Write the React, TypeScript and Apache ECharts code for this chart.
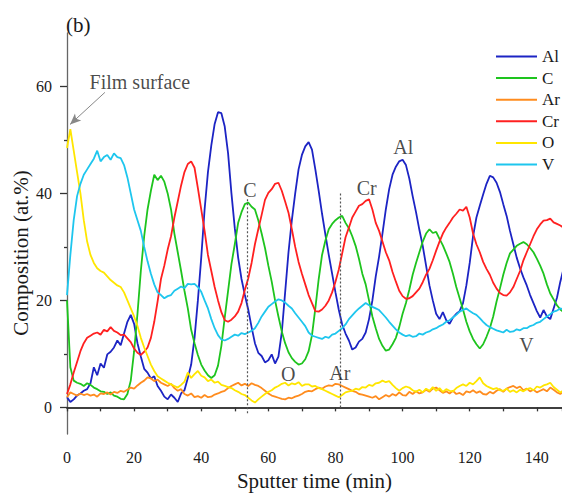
import React, { useEffect, useRef } from "react";
import * as echarts from "echarts";

// Composition (at.%) sampled every 1 min of sputter time, t = 0 .. 148 min
const AL = [
  1.9, 1.0, 1.5, 2.2, 2.6, 3.1, 3.4, 4.5, 7.5, 6.0,
  8.2, 7.4, 9.9, 10.4, 11.2, 12.5, 11.6, 13.8, 16.0, 17.3,
  15.6, 12.0, 9.5, 7.2, 6.5, 5.4, 5.8, 4.0, 3.1, 2.0,
  1.5, 2.4, 1.8, 1.0, 2.6, 3.2, 5.5, 8.0, 13.0, 20.0,
  28.0, 37.0, 44.0, 49.0, 53.0, 55.2, 55.0, 52.5, 47.5, 40.0,
  33.5, 28.0, 24.0, 21.0, 18.3, 15.0, 12.0, 10.2, 9.6, 8.4,
  8.8, 9.9, 8.2, 9.5, 14.0, 21.5, 29.0, 35.0, 40.0, 44.5,
  47.2, 48.8, 49.6, 48.2, 44.5, 40.5, 36.2, 32.3, 28.5, 25.0,
  21.5, 18.2, 15.5, 13.8, 12.5, 10.8, 11.2, 12.3, 12.8, 14.0,
  16.5, 20.0, 24.5, 28.2, 32.5, 37.0, 40.8, 43.5, 45.0, 46.0,
  46.3, 45.3, 42.8, 39.5, 36.5, 33.2, 30.2, 26.5, 22.8, 20.0,
  17.5, 16.5, 17.8, 16.3, 15.6, 16.8, 17.5, 18.0, 19.5, 22.8,
  27.0, 32.0, 35.5, 37.7, 39.8, 41.8, 43.3, 43.0, 42.0, 40.3,
  38.0, 35.8, 33.0, 30.5, 28.0, 26.0, 24.3, 22.8, 21.0, 19.5,
  18.0, 16.8, 18.2, 17.0, 16.5, 18.5, 20.5, 23.5, 26.0,
];

const C = [
  20.0, 7.5, 5.0, 4.6, 4.4, 4.0, 4.5, 4.2, 3.7, 3.4,
  3.0, 2.9, 2.5, 2.8, 2.2, 2.0, 1.6, 1.5, 2.5, 5.0,
  10.5, 17.5, 25.5, 32.0, 37.0, 40.5, 43.5, 42.5, 43.3, 42.2,
  40.0, 37.0, 32.5, 29.0, 25.5, 21.8, 18.5, 14.5, 12.0, 9.8,
  8.0, 6.9, 6.0, 5.5, 6.0, 7.8, 11.5, 16.8, 21.8, 26.8,
  30.5, 34.5, 36.5, 38.0, 38.3, 37.5, 37.0, 35.0, 32.5, 29.8,
  26.5, 23.5, 20.0, 17.0, 14.2, 12.0, 10.3, 9.2, 8.5, 8.0,
  8.2, 9.0, 10.5, 13.5, 18.5, 24.0, 28.5, 31.2, 33.3, 34.3,
  35.0, 35.5, 35.8, 34.5, 33.5, 32.0, 30.2, 27.8, 25.0, 23.0,
  20.0, 17.0, 14.8, 12.8, 11.5, 10.6, 10.8, 11.8, 13.0, 15.0,
  17.5, 19.5, 22.0, 24.8, 27.0, 29.0, 31.0, 32.5, 33.3, 32.6,
  32.8, 31.5, 30.3, 28.8, 27.2, 25.0, 22.5, 20.4, 18.3, 16.0,
  14.2, 12.8, 11.8, 11.0, 11.8, 13.2, 14.8, 17.0, 19.8, 22.2,
  24.8, 27.0, 28.8, 29.5, 30.2, 30.6, 30.9, 30.5, 29.8, 29.0,
  27.8, 26.5, 25.0, 23.0, 21.3, 20.2, 19.1, 18.3, 17.8,
];

const AR = [
  1.9, 2.8, 2.5, 2.2, 2.6, 2.3, 2.5, 2.2, 2.4, 2.0,
  2.6, 2.5, 2.8, 2.4, 2.9, 2.7, 3.1, 2.9, 3.3, 3.7,
  3.5, 4.1, 4.6, 5.0, 5.6, 5.4, 4.9, 5.2, 4.6, 4.3,
  4.0, 4.4, 3.6, 3.1, 3.4, 2.5, 2.2, 2.6, 1.9, 2.1,
  1.8, 2.3, 1.9, 2.0, 2.4, 2.6, 2.9, 3.1, 3.6, 4.0,
  4.3, 4.6, 4.1, 4.4, 4.0, 4.5, 4.2, 4.0, 3.6, 3.1,
  2.6, 2.2, 2.0, 1.8, 1.6, 1.5, 1.8, 1.7, 2.0, 2.2,
  2.5, 2.9, 3.1, 3.0, 3.4, 3.7, 3.5, 3.9, 4.1, 4.0,
  4.4, 4.3, 4.0, 3.7, 3.4, 3.1, 2.9, 2.5, 2.4, 2.2,
  2.0, 1.8, 2.1, 1.5, 1.9, 2.3, 2.0, 2.5, 2.2, 2.8,
  2.3, 2.2, 2.9, 2.5, 3.0, 2.6, 2.8, 3.3, 2.9, 3.5,
  3.7, 3.2, 2.7, 3.0, 2.6, 3.1, 2.5, 2.7, 2.3, 3.0,
  2.8, 3.2, 2.7, 3.0, 2.5, 2.4, 2.9, 2.6, 3.1, 3.4,
  2.9, 3.5, 3.8, 4.0, 3.6, 3.9, 3.2, 3.5, 3.0, 3.3,
  2.8, 3.1, 3.4, 3.0, 3.7, 3.3, 2.8, 2.5, 3.0,
];

const CR = [
  2.5, 4.3, 6.5, 8.5, 10.5, 12.0, 13.0, 13.4, 13.8, 14.0,
  13.6, 14.5, 14.2, 15.0, 14.3, 14.0, 13.5, 13.6, 12.9, 12.2,
  11.0, 10.2, 9.8, 10.4, 11.2, 13.0, 16.0, 19.8, 24.0, 26.5,
  29.5, 32.0, 35.5, 38.5, 41.5, 44.0, 45.5, 46.0, 44.8, 41.0,
  37.0, 33.0, 28.5, 25.5, 22.5, 20.0, 17.8, 16.3, 16.0, 16.4,
  17.0, 17.9, 19.5, 22.0, 24.1, 27.0, 30.5, 33.3, 36.0, 38.8,
  40.1, 40.8, 41.8, 42.0, 40.5, 38.5, 36.4, 33.3, 30.0, 27.2,
  25.0, 23.0, 21.0, 19.5, 18.0, 17.9, 18.3, 19.0, 20.0, 21.5,
  23.5, 25.8, 28.8, 31.8, 33.6, 35.5, 36.6, 37.7, 38.0, 38.6,
  38.9, 37.0, 34.5, 33.0, 31.0, 29.0, 27.5, 25.3, 23.5, 21.8,
  20.8, 20.3, 20.4, 20.8, 21.5, 22.2, 23.4, 24.8, 25.9, 27.5,
  29.3, 31.0, 32.5, 33.6, 34.5, 35.5, 36.2, 37.0, 36.8, 37.5,
  35.5, 32.5, 30.5, 29.0, 27.2, 25.9, 24.8, 23.3, 22.2, 21.4,
  21.0, 20.9, 21.5, 22.5, 24.0, 25.5, 27.5, 29.0, 30.5, 32.0,
  33.3, 34.2, 34.9, 35.0, 35.3, 34.6, 34.3, 34.0, 33.6,
];

const O = [
  48.5, 52.0, 48.0, 44.0, 40.0, 35.0, 31.0, 28.5, 27.0, 26.0,
  25.5, 25.2, 24.5, 23.8, 23.3, 22.8, 22.5, 21.5, 20.0, 18.5,
  17.0, 15.2, 13.0, 11.2, 9.6, 8.0, 6.8, 5.8, 5.4, 5.0,
  4.6, 4.3, 4.0, 3.7, 4.2, 4.8, 6.5, 5.5, 6.2, 6.8,
  5.9, 5.6, 4.9, 5.2, 4.6, 4.8, 4.2, 4.0, 3.8, 3.6,
  3.2, 2.9, 2.5, 2.3, 1.8, 1.3, 0.9, 1.5, 2.0, 2.5,
  2.9, 3.2, 3.7, 4.0, 4.4, 4.6, 4.1, 4.5, 4.3, 4.7,
  4.0, 4.3, 4.3, 3.9, 4.0, 3.6, 3.4, 3.1, 2.8, 2.5,
  2.2, 1.9, 2.3, 2.8, 3.0, 3.1, 3.5, 3.3, 3.8, 3.7,
  4.2, 4.0, 4.5, 4.6, 5.0, 4.7, 4.9, 4.2, 3.6, 3.1,
  3.6, 3.9, 3.7, 3.2, 2.9, 3.3, 2.8, 3.5, 3.1, 3.8,
  3.1, 3.6, 2.9, 3.4, 3.1, 3.0, 3.6, 4.0, 4.3, 4.0,
  4.6, 4.3, 4.9, 5.6, 4.5, 4.0, 3.7, 3.4, 3.6, 3.2,
  3.1, 3.5, 2.9, 3.2, 2.8, 3.3, 3.0, 3.4, 3.6, 3.2,
  3.9, 3.7, 4.1, 4.3, 4.6, 3.8, 3.3, 2.8, 3.2,
];

const V = [
  21.0, 28.5, 35.0, 39.5, 41.8, 43.5, 44.5, 45.5, 46.5, 48.0,
  46.0, 46.8, 47.2, 46.3, 47.5, 46.8, 46.6, 45.3, 43.0, 40.0,
  37.0, 35.0, 33.0, 30.0, 27.3, 25.0, 23.0, 21.5, 21.0, 20.4,
  20.8, 21.0, 21.8, 22.2, 22.6, 22.3, 23.1, 23.0, 23.1, 22.5,
  21.6, 20.0, 18.5, 16.5, 14.8, 13.5, 12.7, 12.5, 12.8, 13.2,
  13.6, 13.4, 13.9, 13.7, 14.0, 14.3, 14.8, 15.8, 17.0, 17.9,
  18.8, 19.3, 19.8, 20.2, 20.0, 19.6, 19.0, 18.5, 17.6, 16.8,
  16.0, 15.2, 14.0, 13.4, 13.2, 13.0, 12.8, 13.2, 13.0, 13.6,
  13.8, 14.3, 14.8, 15.5, 16.5, 17.2, 17.9, 18.5, 19.0, 19.5,
  19.1, 18.8, 18.5, 18.2, 17.5, 16.8, 16.0, 15.3, 14.6, 14.0,
  13.6, 13.3, 13.5, 13.2, 13.3, 13.8, 13.6, 14.0, 14.2, 14.6,
  14.8, 15.2, 15.5, 16.0, 16.3, 16.8, 17.3, 17.9, 18.2, 18.5,
  18.0, 17.6, 17.3, 16.7, 16.0, 15.4, 15.0, 14.7, 14.4, 14.2,
  14.0, 14.5, 14.1, 14.2, 14.6, 14.4, 14.8, 14.8, 15.2, 15.4,
  15.8, 16.0, 16.5, 17.0, 17.4, 17.9, 18.1, 18.5, 18.3,
];

const SERIES_NAMES = ["Al", "C", "Ar", "Cr", "O", "V"];
const SERIES_VALUES = [AL, C, AR, CR, O, V];
const SERIES_COLORS = ["#1c24c4", "#1ec41e", "#ff8c1e", "#ff2020", "#ffe600", "#1ec6ee"];

const X_LABELS = [0, 20, 40, 60, 80, 100, 120, 140];
const Y_LABELS = [0, 20, 40, 60];
const Y_MINOR = [10, 30, 50];

// Text annotations placed at (time, composition)
const ANNOTATIONS: [string, number, number][] = [
  ["Film surface", 21.7, 60.8],
  ["C", 54.5, 40.6],
  ["Cr", 89.3, 41.0],
  ["Al", 100.2, 48.6],
  ["O", 65.9, 6.2],
  ["Ar", 81.3, 6.4],
  ["V", 136.9, 11.6],
];
// Dotted reference lines: [time, from, to]
const MARK_LINES: [number, number, number][] = [
  [53.7, 38.9, -1.2],
  [81.5, 40.0, -0.4],
];
// Arrow: from (t, v) to (t, v)
const ARROW: [number, number, number, number] = [11.3, 58.9, 0.9, 52.9];

const FONT = "'Liberation Serif', 'Times New Roman', serif";

export default function App() {
  const ref = useRef<HTMLDivElement>(null);

  useEffect(() => {
    if (!ref.current) return;
    const chart = echarts.init(ref.current, null, { renderer: "svg" });

    const lineSeries = SERIES_NAMES.map((name, k) => ({
      name,
      type: "line",
      data: SERIES_VALUES[k].map((v, i) => [i, v]),
      symbol: "none",
      showSymbol: false,
      smooth: false,
      clip: true,
      lineStyle: { color: SERIES_COLORS[k], width: 1.8 },
      itemStyle: { color: SERIES_COLORS[k] },
      z: 3,
    }));

    const annotationSeries = {
      name: "annotations",
      type: "scatter",
      data: ANNOTATIONS.map(([text, t, v]) => ({ name: text, value: [t, v] })),
      symbolSize: 1,
      itemStyle: { color: "transparent" },
      silent: true,
      z: 5,
      label: {
        show: true,
        position: "inside",
        formatter: (p: any) => p.name,
        fontFamily: FONT,
        fontSize: 20,
        color: "#1a1a1a",
      },
      markLine: {
        silent: true,
        symbol: ["none", "none"],
        label: { show: false },
        lineStyle: { color: "#555", type: [2, 2], width: 1.2 },
        data: [
          ...MARK_LINES.map(([t, a, b]) => [{ coord: [t, a] }, { coord: [t, b] }]),
          [
            {
              coord: [ARROW[0], ARROW[1]],
              symbol: "none",
              lineStyle: { color: "#888", type: "solid", width: 1 },
            },
            {
              coord: [ARROW[2], ARROW[3]],
              symbol: "arrow",
              symbolSize: [7, 11],
              lineStyle: { color: "#888", type: "solid", width: 1 },
              itemStyle: { color: "#111" },
            },
          ],
        ],
      },
    };

    chart.setOption({
      animation: false,
      backgroundColor: "#ffffff",
      textStyle: { fontFamily: FONT },
      grid: { left: 67, right: 0, top: 33, bottom: 55.5 },
      legend: {
        data: SERIES_NAMES,
        orient: "vertical",
        left: 496,
        top: 48,
        padding: 0,
        icon: "rect",
        itemWidth: 41,
        itemHeight: 2,
        itemGap: 4.6,
        textStyle: { fontFamily: FONT, fontSize: 17, color: "#1a1a1a" },
        selectedMode: false,
      },
      xAxis: [
        {
          type: "value",
          min: 0,
          max: 147.5,
          interval: 20,
          position: "bottom",
          name: "Sputter time (min)",
          nameLocation: "middle",
          nameGap: 35,
          nameTextStyle: { fontFamily: FONT, fontSize: 21, color: "#1a1a1a" },
          axisLine: { show: true, lineStyle: { color: "#333", width: 1.5 } },
          axisTick: { show: true, inside: false, length: 4, lineStyle: { color: "#333", width: 1.3 } },
          minorTick: { show: true, splitNumber: 2, length: 4, lineStyle: { color: "#333", width: 1.3 } },
          axisLabel: {
            customValues: X_LABELS,
            fontFamily: FONT,
            fontSize: 16,
            color: "#1a1a1a",
            margin: 15,
          },
          splitLine: { show: false },
          minorSplitLine: { show: false },
        },
        {
          type: "value",
          min: 0,
          max: 147.5,
          position: "top",
          axisLine: { show: true, lineStyle: { color: "#333", width: 1.5 } },
          axisTick: { show: false },
          axisLabel: { show: false },
          splitLine: { show: false },
        },
      ],
      yAxis: [
        {
          type: "value",
          min: -5,
          max: 70,
          position: "left",
          axisLine: { show: true, lineStyle: { color: "#666", width: 1.3 } },
          axisTick: {
            show: true,
            customValues: Y_LABELS,
            inside: false,
            length: 7,
            lineStyle: { color: "#333", width: 1.3 },
          },
          axisLabel: {
            customValues: Y_LABELS,
            fontFamily: FONT,
            fontSize: 16,
            color: "#1a1a1a",
            margin: 15,
          },
          splitLine: { show: false },
        },
        {
          type: "value",
          min: -5,
          max: 70,
          position: "left",
          axisLine: { show: false },
          axisTick: {
            show: true,
            customValues: Y_MINOR,
            inside: false,
            length: 3,
            lineStyle: { color: "#333", width: 1.3 },
          },
          axisLabel: { show: false },
          splitLine: { show: false },
        },
      ],
      graphic: [
        {
          type: "text",
          x: 21,
          y: 253,
          rotation: Math.PI / 2,
          style: {
            text: "Composition (at.%)",
            fontFamily: FONT,
            fontSize: 21,
            fill: "#1a1a1a",
            align: "center",
            verticalAlign: "middle",
            textAlign: "center",
            textVerticalAlign: "middle",
          },
        },
        {
          type: "text",
          left: 66,
          top: 14,
          style: { text: "(b)", fontFamily: FONT, fontSize: 21, fill: "#1a1a1a" },
        },
      ],
      series: [...lineSeries, annotationSeries],
    });

    return () => chart.dispose();
  }, []);

  return (
    <div
      ref={ref}
      style={{ position: "fixed", left: 0, top: 0, width: 562, height: 496, background: "#fff" }}
    />
  );
}
